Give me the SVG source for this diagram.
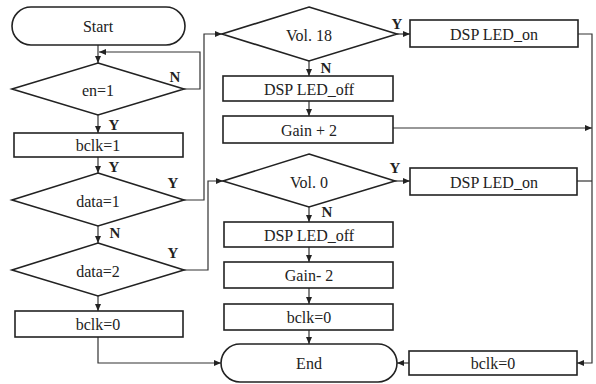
<svg xmlns="http://www.w3.org/2000/svg" width="596" height="384" viewBox="0 0 596 384">
<style>
.s{fill:#fff;stroke:#222;stroke-width:1.6}
.t{font-family:"Liberation Serif","Times New Roman",serif;font-size:16px;fill:#222;text-anchor:middle;dominant-baseline:central}
.l{font-family:"Liberation Serif","Times New Roman",serif;font-size:15px;font-weight:bold;fill:#222;text-anchor:middle;dominant-baseline:central}
.c{fill:none;stroke:#333;stroke-width:1.2}
.a{marker-end:url(#ah)}
</style>
<defs>
<marker id="ah" markerUnits="userSpaceOnUse" markerWidth="7" markerHeight="6" refX="7" refY="3" orient="auto">
<path d="M0,0 L7,3 L0,6 z" fill="#222"/>
</marker>
</defs>
<rect width="596" height="384" fill="#fff"/>
<g id="connectors">
<path class="c a" d="M98,45 V63"/>
<path class="c a" d="M184,89 H200 V52 H99"/>
<path class="c a" d="M98,115 V133"/>
<path class="c a" d="M98,157 V173"/>
<path class="c a" d="M98,226 V243"/>
<path class="c a" d="M98,296 V311"/>
<path class="c a" d="M98,337 V363 H221"/>
<path class="c a" d="M184,200 H204 V34 H222"/>
<path class="c a" d="M184,270 H208 V181 H223"/>
<path class="c a" d="M397,34 H410"/>
<path class="c a" d="M309,61 V76"/>
<path class="c a" d="M309,101 V116"/>
<path class="c a" d="M393,128 H592"/>
<path class="c a" d="M578,34 H592 V363 H577"/>
<path class="c" d="M577,181 H592"/>
<path class="c a" d="M395,181 H410"/>
<path class="c a" d="M309,207 V222"/>
<path class="c a" d="M309,247 V262"/>
<path class="c a" d="M309,288 V304"/>
<path class="c a" d="M309,330 V344"/>
<path class="c a" d="M409,363 H397"/>
</g>
<g id="start"><rect class="s" x="12" y="7" width="173" height="38" rx="19"/><text class="t" x="98" y="26">Start</text></g>
<g id="en1"><polygon class="s" points="98,63 184,89 98,115 12,89"/><text class="t" x="98" y="90">en=1</text></g>
<g id="bclk1"><rect class="s" x="14" y="133" width="169" height="24"/><text class="t" x="98" y="145">bclk=1</text></g>
<g id="data1"><polygon class="s" points="98,173 184,200 98,226 12,200"/><text class="t" x="98" y="201">data=1</text></g>
<g id="data2"><polygon class="s" points="98,243 184,270 98,296 12,270"/><text class="t" x="98" y="271">data=2</text></g>
<g id="bclk0a"><rect class="s" x="15" y="311" width="168" height="26"/><text class="t" x="98" y="324">bclk=0</text></g>
<g id="vol18"><polygon class="s" points="309,7 397,34 309,61 222,34"/><text class="t" x="309" y="35">Vol. 18</text></g>
<g id="ledon1"><rect class="s" x="410" y="20" width="168" height="27"/><text class="t" x="494" y="34">DSP LED_on</text></g>
<g id="ledoff1"><rect class="s" x="223" y="76" width="170" height="25"/><text class="t" x="309" y="89">DSP LED_off</text></g>
<g id="gainp"><rect class="s" x="223" y="116" width="170" height="27"/><text class="t" x="309" y="130">Gain + 2</text></g>
<g id="vol0"><polygon class="s" points="309,154 395,181 309,207 223,181"/><text class="t" x="309" y="182">Vol. 0</text></g>
<g id="ledon2"><rect class="s" x="410" y="168" width="167" height="27"/><text class="t" x="494" y="182">DSP LED_on</text></g>
<g id="ledoff2"><rect class="s" x="224" y="222" width="169" height="25"/><text class="t" x="309" y="235">DSP LED_off</text></g>
<g id="gainm"><rect class="s" x="224" y="262" width="169" height="26"/><text class="t" x="309" y="275">Gain- 2</text></g>
<g id="bclk0b"><rect class="s" x="224" y="304" width="169" height="26"/><text class="t" x="309" y="317">bclk=0</text></g>
<g id="end"><rect class="s" x="221" y="344" width="176" height="38" rx="19"/><text class="t" x="309" y="363">End</text></g>
<g id="bclk0c"><rect class="s" x="409" y="351" width="168" height="24"/><text class="t" x="493" y="363">bclk=0</text></g>
<g id="labels">
<text class="l" x="175" y="77">N</text>
<text class="l" x="114" y="125">Y</text>
<text class="l" x="114" y="167">Y</text>
<text class="l" x="173" y="183">Y</text>
<text class="l" x="115" y="233">N</text>
<text class="l" x="173" y="253">Y</text>
<text class="l" x="397" y="24">Y</text>
<text class="l" x="326" y="68">N</text>
<text class="l" x="395" y="168">Y</text>
<text class="l" x="327" y="212">N</text>
</g>
</svg>
